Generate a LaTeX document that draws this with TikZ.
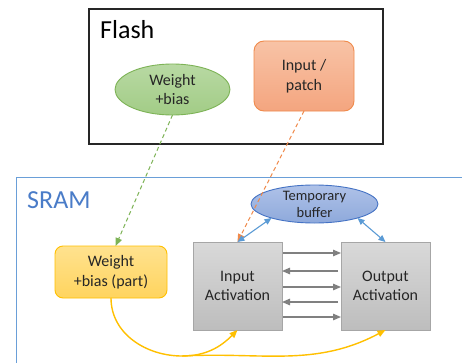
\documentclass[tikz,border=0pt]{standalone}
\usepackage{fontspec}
\setmainfont{Carlito}
\usetikzlibrary{shapes.geometric,arrows.meta,positioning,calc}

\definecolor{wtgreen}{HTML}{7DB356}
\definecolor{wttop}{HTML}{B8D9A3}
\definecolor{wtbot}{HTML}{A2CC86}
\definecolor{ipborder}{HTML}{F08A4B}
\definecolor{iptop}{HTML}{F8C3A6}
\definecolor{ipbot}{HTML}{F4A57F}
\definecolor{bufborder}{HTML}{4472C4}
\definecolor{buftop}{HTML}{AFC2E8}
\definecolor{bufbot}{HTML}{8EA9DB}
\definecolor{bufblue}{HTML}{5B9BD5}
\definecolor{wbgold}{HTML}{FFC000}
\definecolor{wbtop}{HTML}{FFE28F}
\definecolor{wbbot}{HTML}{FFD45E}
\definecolor{acttop}{HTML}{D9D9D9}
\definecolor{actbot}{HTML}{BDBDBD}
\definecolor{actborder}{HTML}{A6A6A6}
\definecolor{flowgrey}{HTML}{808080}
\definecolor{sramline}{HTML}{6A9FD8}
\definecolor{sramtext}{HTML}{4A7CC8}
\definecolor{inktext}{HTML}{262626}

\begin{document}
\begin{tikzpicture}[x=1pt,y=1pt,
    txt/.style={font=\fontsize{16}{19.5}\selectfont, align=center, text=inktext, inner sep=0pt, outer sep=0pt},
    region/.style={font=\fontsize{26}{30}\selectfont, anchor=base west, inner sep=0pt},
    actbox/.style={txt, draw=actborder, line width=0.9pt, top color=acttop, bottom color=actbot, minimum width=89pt, minimum height=88pt},
    tri/.style={-{Triangle[length=8pt,width=6.5pt]}},
    flowline/.style={tri, draw=flowgrey, line width=1.3pt},
    swapline/.style={{Triangle[length=7pt,width=6pt]}-{Triangle[length=7pt,width=6pt]}, draw=bufblue, line width=1.1pt},
    loadline/.style={tri, dash pattern=on 4pt off 3pt, line width=1pt},
    feedline/.style={tri, draw=wbgold, line width=1.4pt}]

  \useasboundingbox (0,0) rectangle (462,362);
  \clip (0,0) rectangle (462,362);
  \fill[white] (0,0) rectangle (462,362);

  % flash memory
  \node[draw=black!85, line width=1.3pt, fill=white, minimum width=294pt, minimum height=135pt, inner sep=0pt] (flash) at (236,285.5) {};
  \node[region, text=black] (flashlbl) at (100,323) {Flash};
  \node[txt, ellipse, draw=wtgreen, line width=0.9pt, top color=wttop, bottom color=wtbot,
        minimum width=115pt, minimum height=51pt] (wt) at (172.5,272.5) {Weight\\+bias};
  \node[txt, rounded corners=10pt, draw=ipborder, line width=0.9pt, top color=iptop, bottom color=ipbot,
        minimum width=100pt, minimum height=70pt] (ip) at (304,286) {Input /\\patch};

  % sram
  \draw[sramline, line width=1pt] (16,185) rectangle (480,-20);
  \node[region, text=sramtext] (sramlbl) at (27,154) {SRAM};
  \node[txt, ellipse, draw=bufborder, line width=0.9pt, top color=buftop, bottom color=bufbot,
        minimum width=127pt, minimum height=38pt, font=\fontsize{14.5}{17}\selectfont] (tb) at (314.5,158) {Temporary\\buffer};
  \node[txt, rounded corners=8pt, draw=wbgold, line width=0.9pt, top color=wbtop, bottom color=wbbot,
        minimum width=112pt, minimum height=52pt] (wb) at (111,90) {Weight\\+bias (part)};
  \node[actbox] (ia) at (237.5,76) {Input\\Activation};
  \node[actbox, right=59pt of ia] (oa) {Output\\Activation};
  \coordinate (dip) at (182,6);

  % loading from flash
  \draw[loadline, draw=wtgreen] (wt.south) -- (wb.80);
  \draw[loadline, draw=ipborder] (ip.south) -- (ia.north);

  % buffer swaps
  \draw[swapline] (ia.north) -- (tb.198);
  \draw[swapline] (oa.north) -- (tb.342);

  % activations back and forth
  \foreach \dy in {33,-1,-31}
    \draw[flowline] ($(ia.east)+(1,\dy)$) -- ($(oa.west)+(0,\dy)$);
  \foreach \dy in {15,-16}
    \draw[flowline] ($(oa.west)+(-3,\dy)$) -- ($(ia.east)+(0,\dy)$);

  % weights to compute
  \draw[feedline] (wb.south) to[out=-90,in=180] (dip) to[out=0,in=-135] (ia.south);
  \draw[feedline] (dip) to[out=3,in=-152] (oa.south);
\end{tikzpicture}
\end{document}
